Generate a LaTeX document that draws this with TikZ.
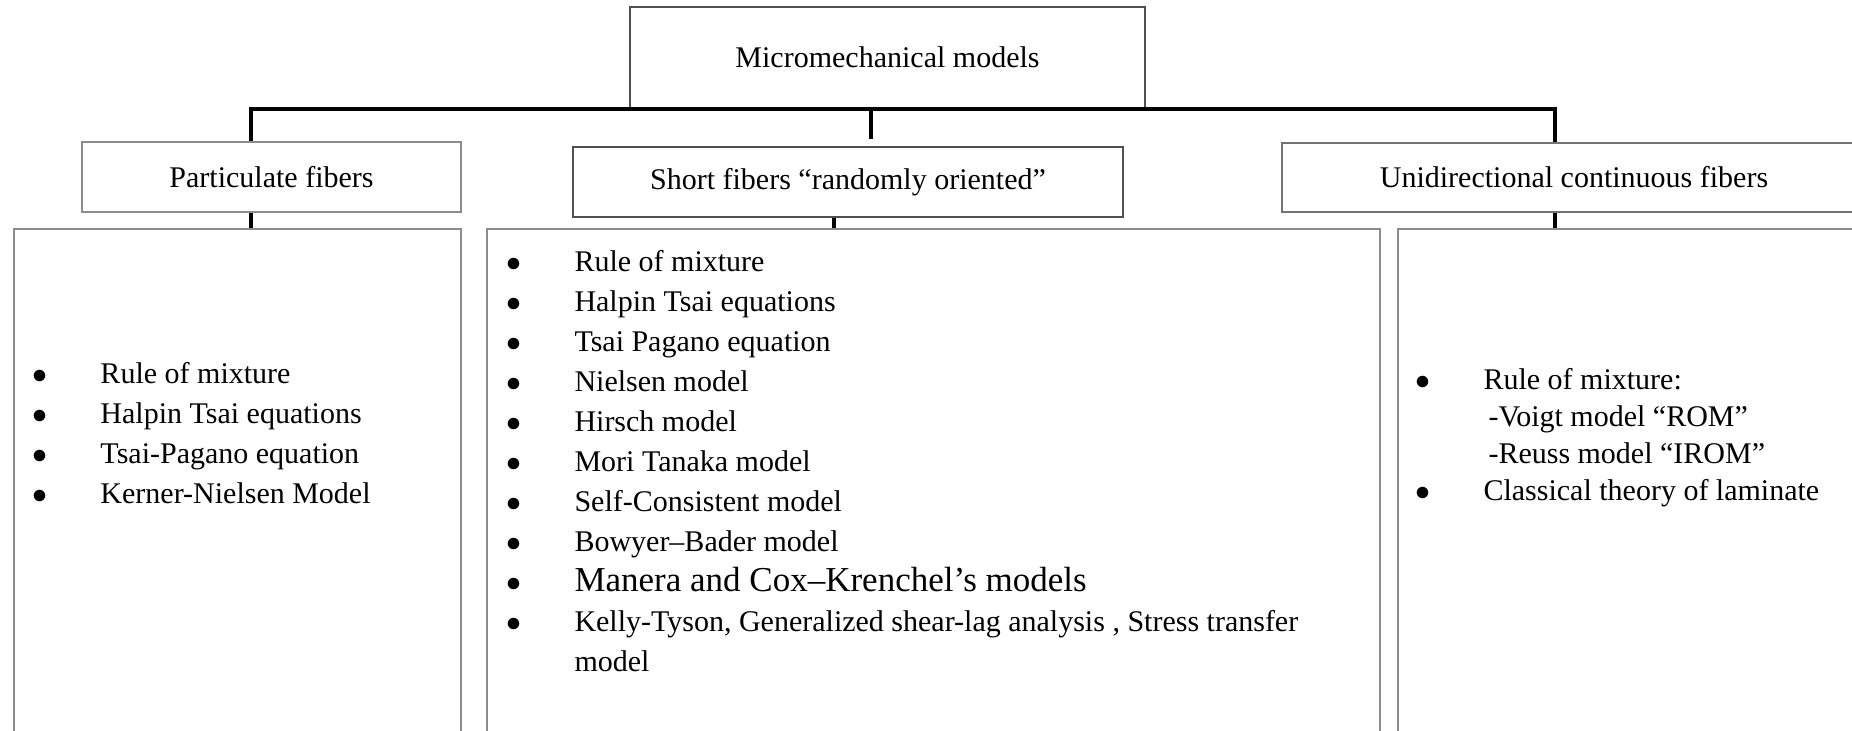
\documentclass[tikz,border=0pt]{standalone}
\usepackage{fontspec}
\setmainfont{Liberation Serif}
\definecolor{edgedark}{HTML}{505050}
\definecolor{edgelight}{HTML}{8C8C8C}
\newcommand{\bul}{\makebox[27.2pt][l]{$\bullet$}}
\newcommand{\subind}{\hspace*{29.2pt}}

\begin{document}
\begin{tikzpicture}[
  x=0.4pt, y=-0.4pt,
  box/.style={draw=edgedark, line width=0.8pt, inner sep=0pt, font=\fontsize{12}{16}\selectfont},
  head/.style={box, minimum height=28pt},
  lower/.style={draw=edgelight, line width=0.8pt, minimum height=212.4pt, inner sep=0pt},
  list/.style={anchor=west, align=left, inner sep=0pt, font=\fontsize{12}{16}\selectfont},
  bus/.style={line width=1.6pt, black}
]
\useasboundingbox (0,0) rectangle (1852,731);
\clip (0,0) rectangle (1852,731);

% top level
\node[box, minimum width=206pt, minimum height=40.4pt] (main) at (887.5,57.5) {Micromechanical models};

% fibre families
\node[head, draw=edgelight, minimum width=151.6pt] (part) at (271.5,177) {Particulate fibers};
\node[head, minimum width=220pt] (short) at (848,182) {Short fibers “randomly oriented”};
\node[head, draw=edgedark!80, minimum width=233.6pt, minimum height=27.6pt] (uni) at (1574,177.5) {Unidirectional continuous fibers};

% model lists
\node[lower, minimum width=178.8pt] (lowL) at (237.5,494.5) {};
\node[lower, minimum width=357.2pt] (lowM) at (933.5,494.5) {};
\node[lower, minimum width=192.8pt] (lowR) at (1639,494.5) {};

\node[list] (listL) at (32,433) {\bul Rule of mixture\\
  \bul Halpin Tsai equations\\
  \bul Tsai-Pagano equation\\
  \bul Kerner-Nielsen Model};
\node[list] (listM) at (506,461) {\bul Rule of mixture\\
  \bul Halpin Tsai equations\\
  \bul Tsai Pagano equation\\
  \bul Nielsen model\\
  \bul Hirsch model\\
  \bul Mori Tanaka model\\
  \bul Self-Consistent model\\
  \bul Bowyer–Bader model\\
  \bul {\fontsize{14}{16}\selectfont Manera and Cox–Krenchel’s models}\\
  \bul Kelly-Tyson, Generalized shear-lag analysis , Stress transfer\\
  \hspace*{27.2pt}model};
\node[list, font=\fontsize{12}{14.8}\selectfont] (listR) at (1415,438) {\bul Rule of mixture:\\
  \subind -Voigt model “ROM”\\
  \subind -Reuss model “IROM”\\
  \bul Classical theory of laminate};

% connectors
\coordinate (busL) at (251,109);
\coordinate (busM) at (871,109);
\coordinate (busR) at (1555,109);
\draw[bus] (part.north -| busL) |- (main.south) -| (uni.north -| busR);
\draw[bus] (main.south -| busM) -- ([yshift=2.8pt]short.north -| busM);
\draw[bus] (part.south -| busL) -- (lowL.north -| busL);
\draw[bus] ([xshift=-5.6pt]short.south) -- ([xshift=-5.6pt]short.south |- lowM.north);
\draw[bus] (uni.south -| busR) -- (lowR.north -| busR);
\end{tikzpicture}
\end{document}
